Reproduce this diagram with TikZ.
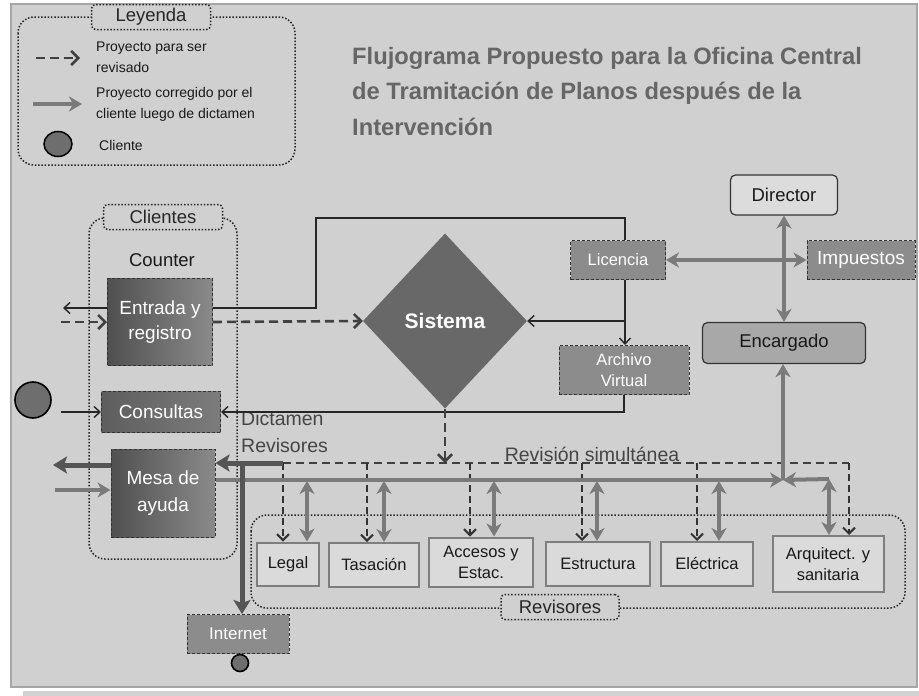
\documentclass[tikz,border=0pt]{standalone}
\usepackage{fontspec}
\setmainfont{Liberation Sans}
\usetikzlibrary{arrows.meta,shapes.geometric}
\definecolor{bgc}{HTML}{D0D0D0}
\definecolor{framec}{HTML}{A6A6A6}
\definecolor{shadowc}{HTML}{D2D2D2}
\definecolor{titlec}{HTML}{666666}
\definecolor{grA}{HTML}{505050}
\definecolor{grB}{HTML}{8A8A8A}
\definecolor{consA}{HTML}{5E5E5E}
\definecolor{consB}{HTML}{7C7C7C}
\definecolor{midc}{HTML}{8C8C8C}
\definecolor{sisc}{HTML}{686868}
\definecolor{arrgray}{HTML}{7A7A7A}
\definecolor{darkarrc}{HTML}{555555}
\definecolor{revfill}{HTML}{DADADA}
\definecolor{revedge}{HTML}{7E7E7E}
\definecolor{clic}{HTML}{6E6E6E}
\definecolor{dirc}{HTML}{DCDCDC}
\definecolor{encc}{HTML}{A8A8A8}
\definecolor{lblc}{HTML}{454545}
\tikzset{
  grp/.style={draw=black!85, line width=1.5pt, dash pattern=on 1.5pt off 1.8pt, rounded corners=16pt},
  grptitle/.style={draw=black!85, line width=1.5pt, dash pattern=on 1.5pt off 1.8pt, rounded corners=4pt, fill=bgc, font=\fontsize{18.5}{22}\selectfont, text=black!85, inner sep=0pt},
  darkbx/.style={draw=black!80, line width=1pt, dash pattern=on 3pt off 2pt, text=white, align=center, inner sep=0pt, font=\fontsize{19}{25}\selectfont},
  midbx/.style={darkbx, fill=midc, font=\fontsize{16.5}{21}\selectfont},
  revbx/.style={draw=revedge, line width=2pt, fill=revfill, align=center, inner sep=0pt, font=\fontsize{16.5}{21}\selectfont, text=black!90},
  solidbx/.style={draw=black!80, line width=1.2pt, rounded corners=5pt, inner sep=0pt, font=\fontsize{18.5}{22}\selectfont, text=black!90},
  thinln/.style={draw=black!85, line width=1.4pt},
  thinarr/.style={thinln, -{Straight Barb[length=6pt,width=11pt]}},
  dashln/.style={draw=black!75, line width=2.2pt, dash pattern=on 8pt off 5pt},
  dasharr/.style={draw=black!75, line width=2.6pt, dash pattern=on 9pt off 5pt, -{Straight Barb[length=7pt,width=14pt]}},
  dashdrop/.style={draw=black!80, line width=2pt, dash pattern=on 7pt off 4pt, -{Straight Barb[length=6pt,width=12pt]}},
  grayarr/.style={draw=arrgray, line width=4pt, -{Stealth[length=13pt,width=15pt,inset=4pt]}},
  graydbl/.style={draw=arrgray, line width=4pt, {Stealth[length=13pt,width=15pt,inset=4pt]}-{Stealth[length=13pt,width=15pt,inset=4pt]}},
  darkarr/.style={draw=darkarrc, line width=5pt, -{Stealth[length=14pt,width=17pt,inset=3pt]}},
  lbl/.style={inner sep=0pt, font=\fontsize{14}{21}\selectfont, align=left, anchor=west, text=black!90}
}
\begin{document}
\begin{tikzpicture}[x=1pt,y=-1pt]
\useasboundingbox (0,0) rectangle (919,696);
\fill[white] (0,0) rectangle (919,696);
\fill[shadowc] (23,691) rectangle (919,696);
\filldraw[fill=bgc, draw=framec, line width=1.5pt] (11,4) rectangle (917,687);

% ---------- Legend ----------
\draw[grp] (18,17) rectangle (295,165);
\node[grptitle, minimum width=119, minimum height=25] (legT) at (151,17) {Leyenda};
\coordinate (la1) at (36,58); \coordinate (la2) at (80,58);
\draw[dasharr] (la1) -- (la2);
\node[lbl] (lt1) at (96,57) {Proyecto para ser\\revisado};
\coordinate (lb1) at (33,104); \coordinate (lb2) at (82,104);
\draw[grayarr] (lb1) -- (lb2);
\node[lbl] (lt2) at (96,104) {Proyecto corregido por el\\cliente luego de dictamen};
\node[ellipse, draw=black, line width=1.5pt, fill=clic, minimum width=28, minimum height=25, inner sep=0pt] (lc) at (58,144) {};
\node[lbl] (lt3) at (99,145) {Cliente};

% ---------- Title ----------
\node[anchor=north west, align=left, inner sep=0pt, text=titlec,
      font=\bfseries\fontsize{23.7}{35.5}\selectfont] (title) at (352,47)
  {Flujograma Propuesto para la Oficina Central\\de Tramitación de Planos después de la\\Intervención};

% ---------- Clientes ----------
\draw[grp] (89,218) rectangle (237,559);
\node[grptitle, minimum width=119, minimum height=25] (cliT) at (163,217) {Clientes};
\node[inner sep=0pt, font=\fontsize{18.5}{22}\selectfont, text=black!90] (counter) at (162,260) {Counter};
\node[darkbx, left color=grA, right color=grB, minimum width=105, minimum height=87] (ent) at (160,322) {Entrada y\\registro};
\node[darkbx, left color=consA, right color=consB, minimum width=119, minimum height=41] (cons) at (161,412) {Consultas};
\node[darkbx, left color=grA, right color=grB, minimum width=104, minimum height=88, font=\fontsize{19}{27}\selectfont] (mesa) at (163,493) {Mesa de\\ayuda};
\node[circle, draw=black, line width=1.6pt, fill=clic, minimum size=36, inner sep=0pt] (cli) at (33,400) {};

% ---------- Centre ----------
\node[diamond, fill=sisc, minimum width=164, minimum height=175, inner sep=0pt, text=white, font=\bfseries\fontsize{21}{25}\selectfont] (sis) at (445,321) {Sistema};
\node[midbx, minimum width=95, minimum height=39] (lic) at (618,260) {Licencia};
\node[midbx, minimum width=130, minimum height=49] (arch) at (624,370) {Archivo\\Virtual};
\node[solidbx, fill=dirc, minimum width=107, minimum height=40] (dir) at (784,195) {Director};
\node[midbx, minimum width=108, minimum height=39, font=\fontsize{19}{22}\selectfont] (imp) at (861,260) {Impuestos};
\node[solidbx, fill=encc, minimum width=163, minimum height=41] (enc) at (784,343) {Encargado};

\node[inner sep=0pt, anchor=west, align=left, text=lblc, font=\fontsize{19.5}{27}\selectfont] (dict) at (241,432) {Dictamen\\Revisores};
\node[inner sep=0pt, text=lblc, font=\fontsize{19.5}{22}\selectfont] (simul) at (592,454) {Revisión simultánea};

% ---------- Revisores ----------
\draw[grp] (251,515) rectangle (905,608);
\node[grptitle, minimum width=118, minimum height=25] (revT) at (560,607) {Revisores};
\node[revbx, minimum width=62, minimum height=43] (legal) at (288,564) {Legal};
\node[revbx, minimum width=90, minimum height=44] (tas) at (374,565) {Tasación};
\node[revbx, minimum width=104, minimum height=49] (acc) at (481,562) {Accesos y\\Estac.};
\node[revbx, minimum width=104, minimum height=44] (est) at (598,564) {Estructura};
\node[revbx, minimum width=92, minimum height=44] (ele) at (707,564) {Eléctrica};
\node[revbx, minimum width=111, minimum height=56] (arq) at (828,564) {Arquitect. y\\sanitaria};

\node[midbx, minimum width=102, minimum height=39, font=\fontsize{17}{21}\selectfont] (inet) at (238,634) {Internet};
\node[circle, draw=black, line width=1.6pt, fill=clic, minimum size=17, inner sep=0pt] (icl) at (240,663) {};

% ---------- helper coordinates ----------
\coordinate (y308) at (0,308);
\coordinate (vx) at (625,0);
\coordinate (lp) at (316,218);
\coordinate (eL) at (63,308);
\coordinate (dIn) at (61,322);
\coordinate (cIn) at (61,412);
\coordinate (sd) at (445,463);
\coordinate (b0) at (283,463);
\coordinate (b6) at (849,463);
\coordinate (jn) at (783,480);
\coordinate (ra) at (829,479);
\coordinate (mL) at (53,465);
\coordinate (mR) at (55,490);
\coordinate (vi) at (242,463);

% ---------- connectors ----------
\draw[thinln] (ent.east |- y308) -| (lp) -| (lic.north -| vx);
\draw[thinarr] (lic.south -| vx) -- (arch.north -| vx);
\draw[thinarr] (vx |- sis.east) -- (sis.east);
\draw[thinarr] (ent.west |- y308) -- (eL);
\draw[dasharr] (dIn) -- (ent.west |- dIn);
\draw[dasharr] (ent.east) -- (sis.west);
\draw[thinarr] (cIn) -- (cons.west);
\draw[thinarr] (arch.south) |- (cons.east);
\draw[dasharr] (sis.south) -- (sd);

\draw[dashln] (b0) -- (b6);
\draw[dashdrop] (b0) -- (b0 |- legal.north);
\draw[dashdrop] (367,463) -- (367,0 |- tas.north);
\draw[dashdrop] (470,463) -- (470,0 |- acc.north);
\draw[dashdrop] (582,463) -- (582,0 |- est.north);
\draw[dashdrop] (697,463) -- (697,0 |- ele.north);
\draw[dashdrop] (b6) -- (b6 |- arq.north);

\draw[grayarr] (mesa.east |- jn) -- (jn);
\draw[grayarr] (ra) -- (jn);
\draw[graydbl] (307,481) -- (307,0 |- legal.north);
\draw[graydbl] (384,481) -- (384,0 |- tas.north);
\draw[graydbl] (494,481) -- (494,0 |- acc.north);
\draw[graydbl] (597,481) -- (597,0 |- est.north);
\draw[graydbl] (719,481) -- (719,0 |- ele.north);
\draw[graydbl] (ra) -- (ra |- arq.north);
\draw[grayarr] (jn) -- (jn |- enc.south);
\draw[graydbl] (dir) -- (enc);
\draw[graydbl] (lic) -- (imp);

\draw[darkarr] (mesa.west |- mL) -- (mL);
\draw[grayarr] (mR) -- (mesa.west |- mR);
\draw[darkarr] (b0) -- (mesa.east |- b0);
\draw[darkarr] (vi) -- (vi |- inet.north);
\end{tikzpicture}
\end{document}
